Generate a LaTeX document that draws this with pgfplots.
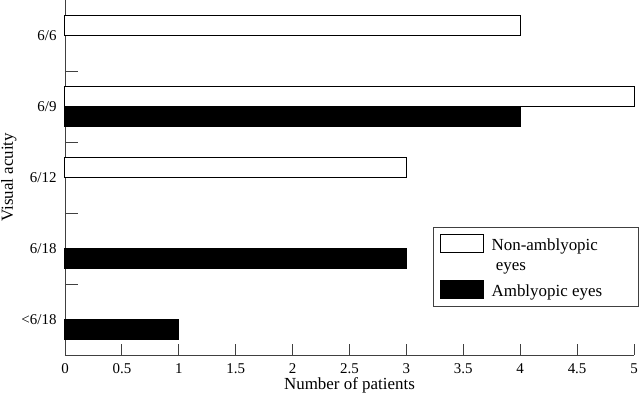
\documentclass[border=0pt]{standalone}
\usepackage{fontspec}
\setmainfont{Liberation Serif}
\usepackage{pgfplots}
\pgfplotsset{compat=1.18}

\begin{document}
\begin{tikzpicture}
\begin{axis}[
  scale only axis, width=569bp, height=355bp,
  xbar, bar width=20bp,
  xmin=0, xmax=5, ymin=-0.5, ymax=4.5,
  xtick={0,0.5,...,5},
  ytick={0,1,2,3,4},
  yticklabels={<6/18,6/18,6/12,6/9,6/6},
  minor ytick={0.5,1.5,2.5,3.5},
  axis x line=bottom, axis y line=left,
  axis line style={-, black!75, line width=0.8bp},
  tick style={black!75, line width=0.8bp},
  tick align=inside, major tick length=11bp,
  major y tick style={draw=none},
  minor tick length=13bp,
  /pgf/number format/assume math mode=true,
  ticklabel style={font=\fontsize{15}{18}\selectfont},
  xticklabel style={yshift=-5bp},
  yticklabel style={xshift=-5bp},
  xlabel={Number of patients}, ylabel={Visual acuity},
  label style={font=\fontsize{17}{20}\selectfont},
  xlabel style={yshift=3bp},
  ylabel style={yshift=-2bp},
  legend style={at={(rel axis cs:1.0088,0.3606)}, anchor=north east,
    draw=black!75, line width=0.8bp, font=\fontsize{17}{20}\selectfont,
    cells={anchor=base west}, row sep=6.5bp, column sep=6bp,
    inner xsep=6bp, inner ysep=6.5bp},
  legend image code/.code={\draw[#1] (0bp,-2bp) rectangle (43bp,16bp);},
  clip=false,
]
\addplot[draw=black, line width=1bp, fill=white, bar shift=10bp]
  coordinates {(4,4) (5,3) (3,2)};
\addlegendentry{\makebox[139bp][l]{Non-amblyopic}}
\addlegendimage{empty legend}
\addlegendentry{\ eyes}
\addplot[draw=black, line width=1bp, fill=black, bar shift=-10bp]
  coordinates {(4,3) (3,1) (1,0)};
\addlegendentry{Amblyopic eyes}
\end{axis}
\pgfresetboundingbox
\path[use as bounding box] (-65bp,-46bp) rectangle (575bp,355bp);
\end{tikzpicture}
\end{document}
